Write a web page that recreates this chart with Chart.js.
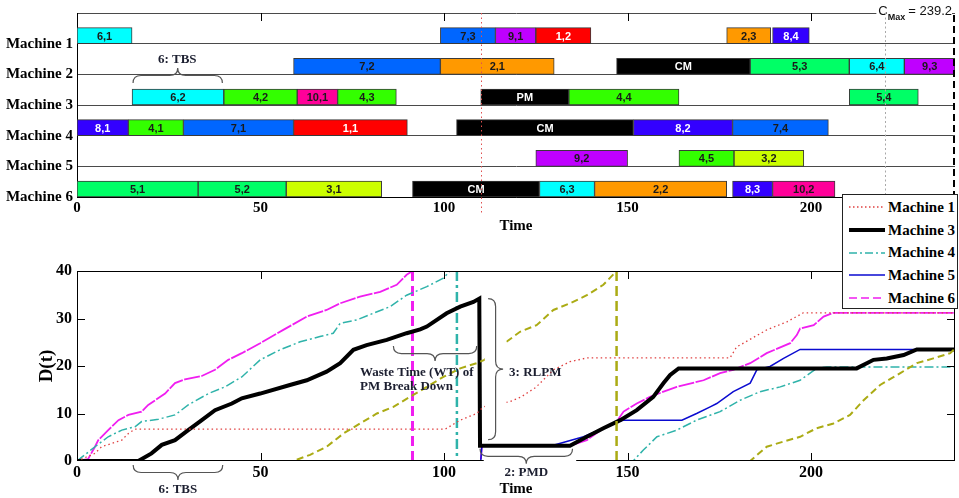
<!DOCTYPE html>
<html>
<head>
<meta charset="utf-8">
<script src="https://cdn.jsdelivr.net/npm/chart.js@4.4.0/dist/chart.umd.min.js"></script>
<style>
  body { margin: 0; background: #fff; width: 959px; height: 498px; overflow: hidden; position: relative; }
  #gantt { position: absolute; left: 0; top: 0; }
  #curves { position: absolute; left: 0; top: 235px; }
  #legend { position: absolute; left: 842px; top: 194px; width: 116px; height: 115px; box-sizing: border-box;
            border: 1px solid #222; background: #fff; padding-top: 1px; z-index: 2;
            font: bold 15px "Liberation Serif", serif; color: #000; }
  #legend .row { height: 22.7px; display: flex; align-items: center; }
  #legend svg { margin-left: 5px; margin-right: 2px; }
</style>
</head>
<body>
<canvas id="gantt" width="959" height="235"></canvas>
<canvas id="curves" width="959" height="263"></canvas>
<div id="legend"></div>
<script>
const cMax = 239.2;
const pmTime = 110;
const refTime = 220;
const machines = ['Machine 1', 'Machine 2', 'Machine 3', 'Machine 4', 'Machine 5', 'Machine 6'];
const timeTicks = [0, 50, 100, 150, 200];
const dTicks = [0, 10, 20, 30, 40];

// schedule: operation label, machine, start, end
const opLabel = ['6,1', '7,3', '9,1', '1,2', '2,3', '8,4',
  '7,2', '2,1', 'CM', '5,3', '6,4', '9,3',
  '6,2', '4,2', '10,1', '4,3', 'PM', '4,4', '5,4',
  '8,1', '4,1', '7,1', '1,1', 'CM', '8,2', '7,4',
  '9,2', '4,5', '3,2',
  '5,1', '5,2', '3,1', 'CM', '6,3', '2,2', '8,3', '10,2'];
const opMachine = [1, 1, 1, 1, 1, 1, 2, 2, 2, 2, 2, 2, 3, 3, 3, 3, 3, 3, 3,
  4, 4, 4, 4, 4, 4, 4, 5, 5, 5, 6, 6, 6, 6, 6, 6, 6, 6];
const opStart = [0, 99, 114, 125, 177, 189.5, 59, 99, 147, 183.4, 210.4, 225.4,
  15, 40, 60, 71, 110, 134, 210.4, 0, 14, 29, 59, 103.4, 151.6, 178.6,
  125, 164, 179, 0, 33, 57, 91.4, 126, 141, 178.6, 189.5];
const opEnd = [15, 114, 125, 140, 189, 199.5, 99, 130, 183.4, 210.4, 225.4, 239.2,
  40, 60, 71, 87, 134, 164, 229.2, 14, 29, 59, 90, 151.6, 178.6, 204.7,
  150, 179, 198, 33, 57, 83, 126, 141, 177, 189.5, 206.5];

// D(t) per machine, [time, value]
const dM1 = [[0, 0], [4.9, 1.6], [6.7, 3], [9.5, 3.7], [12.2, 4.4], [14, 5.8], [15.8, 6.7], [100.3, 6.7],
  [104.4, 8.6], [108.9, 10], [110.7, 11.4], [118, 12.5], [121, 13.5], [125, 15.5], [129.8, 19.2],
  [134.3, 20.9], [138.9, 21.7], [177.9, 21.7], [179.7, 24], [187.9, 27.6], [193.4, 29.3],
  [197.9, 31.2], [239.2, 31.2]];
const dM2 = [[0, 0], [58.9, 0], [63.5, 1.3], [68, 3], [72.6, 5.8], [77.1, 7.9], [81.7, 10], [86.2, 11.4],
  [90.7, 13.5], [95.3, 15.6], [99.8, 17.7], [104.4, 19.5], [108.9, 20.6], [111, 21.3], [117, 25.1],
  [120.7, 27.2], [125.2, 28.6], [129.8, 31.8], [134.3, 33.2], [138.9, 34.9], [143.4, 37.1], [147, 40],
  [147, 0], [183.4, 0], [187.9, 3], [192.5, 4.1], [197, 5.1], [201.5, 6.9], [206.1, 7.9], [210.6, 9.7],
  [214.3, 12.8], [218.8, 16], [224.3, 18.5], [228.8, 20.6], [233.3, 21.6], [237.9, 22.7], [239.2, 23.7]];
const dM3 = [[0, 0], [16.7, 0], [20.3, 1.6], [23.1, 3.4], [26.7, 4.4], [30.3, 6.5], [34, 8.6], [37.6, 10.7],
  [42.2, 12.1], [44.9, 13.2], [49.9, 14.2], [58, 16], [62.6, 17], [68, 18.8], [71.7, 20.6], [75.3, 23.4],
  [78.9, 24.4], [84.4, 25.5], [89.8, 26.9], [93.5, 27.7], [95.3, 28.3], [100.7, 31.1], [104.4, 32.5],
  [108, 33.5], [109.6, 34.2], [109.8, 3.2], [134.3, 3.2], [138.9, 5.1], [143.4, 6.9], [148, 8.6],
  [152.5, 10.7], [157, 13.5], [159.8, 16.4], [161.6, 18.1], [163.9, 19.5], [212.4, 19.5], [217, 21.3],
  [220.6, 21.6], [225.2, 22.3], [228.8, 23.5], [239.2, 23.5]];
const dM4 = [[0, 0], [4.9, 3], [8.5, 5.1], [12.2, 6.5], [15.8, 7.2], [17.6, 8.3], [22.2, 8.8], [26.7, 9.7],
  [30.3, 11.8], [35.8, 14.2], [40.3, 15.6], [44.9, 17.7], [49.9, 21.3], [55.3, 23.4], [60.8, 25.1],
  [66.2, 26.2], [69.8, 26.9], [71.7, 29], [76.2, 29.7], [80.7, 31.1], [85.3, 32.5], [89.8, 34.9],
  [95.3, 36.7], [99.8, 38.5], [101.6, 40], [103.5, 40], [103.5, 0], [151.5, 0], [154.3, 2.3], [158, 5.1],
  [163.4, 6.5], [168.8, 8.6], [175.2, 10.4], [180.7, 12.8], [186.1, 14.6], [191.6, 15.6], [197, 17],
  [201.5, 19.5], [204.3, 19.8], [239.2, 19.8]];
const dM5 = [[0, 0], [110, 0], [110.3, 3.2], [129.3, 3.2], [133.4, 4.1], [138, 5.1], [143.4, 6.9], [147, 8.3],
  [148.9, 8.6], [164.8, 8.6], [168.8, 10], [172.5, 11.4], [174.3, 12.1], [178.8, 14.6], [183.4, 16.4],
  [185.2, 19.2], [188.8, 19.9], [192.5, 21.6], [197, 23.5], [239.2, 23.5]];
const dM6 = [[0, 0], [3, 0.4], [4.9, 3], [5.8, 4.4], [8.5, 6.5], [11.3, 8.6], [14, 9.7], [17.6, 10.4],
  [19.4, 11.8], [24, 14.2], [26.7, 16.4], [29.4, 17.2], [34, 17.9], [37.6, 19.2], [41.2, 21.3],
  [44.9, 22.7], [49.9, 24.8], [56.2, 27.6], [62.6, 30.4], [68, 31.8], [71.7, 33.2], [77.1, 34.6],
  [82.6, 35.6], [87.1, 37.1], [89.8, 39.2], [91.4, 40], [91.4, 0], [110, 0], [110.3, 3.2], [129.8, 3.2],
  [134.3, 3.2], [138.9, 4.4], [143.4, 6.9], [147, 8.3], [148.9, 10.4], [152.5, 12.1], [156.1, 13.5],
  [159.8, 14.6], [163.4, 15.6], [170.7, 17], [175.2, 18.5], [178.8, 19.2], [183.4, 20.6], [187.9, 22.7],
  [194.3, 24.8], [196.1, 26.5], [197, 27.9], [200.7, 28.6], [203.4, 30.4], [206.1, 31.2], [239.2, 31.2]];

const jobColor = {
  '1': '#ff0000', '2': '#ff9900', '3': '#ccff00', '4': '#33ff00', '5': '#00ff66',
  '6': '#00ffff', '7': '#0066ff', '8': '#3300ff', '9': '#bf00ff', '10': '#ff0099',
  'CM': '#000000', 'PM': '#000000'
};
const lightText = ['1', '8', 'CM', 'PM'];
const jobOf = l => l.split(',')[0];

const serif = '"Liberation Serif", "Times New Roman", serif';
const sans = '"Liberation Sans", Arial, sans-serif';
const noteColor = '#1c1f30';

function hBrace(ctx, x1, x2, y, d) {
  const xm = (x1 + x2) / 2, h = d / 2, r = Math.min(8, (x2 - x1) / 4);
  ctx.beginPath();
  ctx.moveTo(x1, y);
  ctx.quadraticCurveTo(x1, y + h, x1 + r, y + h);
  ctx.lineTo(xm - r, y + h);
  ctx.quadraticCurveTo(xm, y + h, xm, y + d);
  ctx.quadraticCurveTo(xm, y + h, xm + r, y + h);
  ctx.lineTo(x2 - r, y + h);
  ctx.quadraticCurveTo(x2, y + h, x2, y);
  ctx.stroke();
}

function vBrace(ctx, y1, y2, x, d) {
  const ym = (y1 + y2) / 2, h = d / 2, r = Math.min(8, (y2 - y1) / 4);
  ctx.beginPath();
  ctx.moveTo(x, y1);
  ctx.quadraticCurveTo(x + h, y1, x + h, y1 + r);
  ctx.lineTo(x + h, ym - r);
  ctx.quadraticCurveTo(x + h, ym, x + d, ym);
  ctx.quadraticCurveTo(x + h, ym, x + h, ym + r);
  ctx.lineTo(x + h, y2 - r);
  ctx.quadraticCurveTo(x + h, y2, x, y2);
  ctx.stroke();
}

function vline(ctx, px, y1, y2, color, width, dash) {
  ctx.save();
  ctx.strokeStyle = color;
  ctx.lineWidth = width;
  ctx.setLineDash(dash);
  ctx.beginPath();
  ctx.moveTo(px, y1);
  ctx.lineTo(px, y2);
  ctx.stroke();
  ctx.restore();
}

// ---------- Gantt chart ----------
const ganttDecor = {
  id: 'ganttDecor',
  afterDatasetsDraw(chart) {
    const { ctx, chartArea: a, scales: { x } } = chart;
    ctx.save();
    // operation labels
    ctx.font = 'bold 11px ' + sans;
    ctx.textAlign = 'center';
    ctx.textBaseline = 'middle';
    chart.getDatasetMeta(0).data.forEach((el, i) => {
      const job = jobOf(opLabel[i]);
      ctx.fillStyle = lightText.includes(job) ? '#ffffff' : '#1a1a1a';
      ctx.fillText(opLabel[i], (el.x + el.base) / 2, el.y + 1);
    });

    // C max label
    const right = x.getPixelForValue(cMax) - 3;
    ctx.textAlign = 'right';
    ctx.textBaseline = 'alphabetic';
    ctx.font = '13px ' + sans;
    const txt = '= ' + cMax;
    const w1 = ctx.measureText(txt).width + 3;
    ctx.font = 'bold 9px ' + sans;
    const w2 = ctx.measureText('Max').width;
    ctx.font = '13px ' + sans;
    const w3 = ctx.measureText('C').width;
    ctx.fillStyle = '#fff';
    ctx.fillRect(right - w1 - w2 - w3 - 2, 0, w1 + w2 + w3 + 2, 21);
    ctx.fillStyle = '#111';
    ctx.fillText(txt, right, 15);
    ctx.font = 'bold 9px ' + sans;
    ctx.fillText('Max', right - w1, 20);
    ctx.font = '13px ' + sans;
    ctx.fillText('C', right - w1 - w2, 15);

    // markers
    vline(ctx, Math.round(x.getPixelForValue(pmTime)) + 0.5, a.top, a.bottom + 18, '#e05050', 1, [1.5, 3]);
    vline(ctx, Math.round(x.getPixelForValue(refTime)) + 0.5, a.top, a.bottom, '#a8a8a8', 1, [2, 2.5]);
    vline(ctx, x.getPixelForValue(cMax) - 1, a.top + 2, a.bottom, '#000', 2, [7, 4]);

    // inward ticks on top border
    ctx.strokeStyle = '#000';
    ctx.lineWidth = 1;
    ctx.beginPath();
    timeTicks.slice(1).forEach(v => {
      const px = Math.round(x.getPixelForValue(v)) + 0.5;
      ctx.moveTo(px, a.top);
      ctx.lineTo(px, a.top + 8);
    });
    ctx.stroke();

    // 6: TBS note above machine 3
    const t1 = x.getPixelForValue(15), t2 = x.getPixelForValue(39.6);
    ctx.fillStyle = '#fff';
    ctx.fillRect(t1 - 3, 50, t2 - t1 + 6, 24);
    ctx.strokeStyle = '#555';
    ctx.lineWidth = 1.2;
    hBrace(ctx, t1 + 1, t2, 83, -15);
    ctx.fillStyle = noteColor;
    ctx.textAlign = 'center';
    ctx.textBaseline = 'middle';
    ctx.font = 'bold 13px ' + serif;
    ctx.fillText('6: TBS', (t1 + t2) / 2, 60);
    ctx.restore();
  }
};

new Chart(document.getElementById('gantt').getContext('2d'), {
  type: 'bar',
  data: {
    datasets: [{
      data: opLabel.map((l, i) => ({ x: [opStart[i], opEnd[i]], y: opMachine[i] })),
      backgroundColor: opLabel.map(l => jobColor[jobOf(l)]),
      borderColor: '#3a3a3a',
      borderWidth: 1,
      borderSkipped: false,
      barThickness: 16
    }, {
      data: [],
      barThickness: 16
    }]
  },
  options: {
    indexAxis: 'y',
    responsive: false,
    animation: false,
    layout: { padding: { top: 7, right: 4, left: 0, bottom: 0 } },
    plugins: { legend: { display: false }, tooltip: { enabled: false } },
    scales: {
      x: {
        type: 'linear', min: 0, max: cMax,
        afterBuildTicks: s => { s.ticks = timeTicks.map(v => ({ value: v })); },
        afterFit: s => { s.height = 38; },
        grid: { display: false, drawTicks: false },
        border: { display: true, color: '#000', width: 1 },
        ticks: { color: '#000', padding: 2, font: { family: serif, size: 15, weight: 'bold' } },
        title: { display: true, text: 'Time', color: '#000', padding: 0,
                 font: { family: serif, size: 15, weight: 'bold' } }
      },
      y: {
        type: 'linear', reverse: true, min: 0, max: machines.length, offset: false,
        afterBuildTicks: s => { s.ticks = [0].concat(machines.map((m, i) => i + 1)).map(v => ({ value: v })); },
        afterFit: s => { s.width = 77; },
        grid: { display: true, offset: false, drawTicks: false, color: '#4a4a4a', lineWidth: 1 },
        border: { display: true, color: '#000', width: 1 },
        ticks: { autoSkip: false, color: '#000', padding: 4,
                 font: { family: serif, size: 15, weight: 'bold' },
                 callback: v => v >= 1 ? machines[v - 1] : '' }
      }
    }
  },
  plugins: [ganttDecor]
});

// ---------- D(t) chart ----------
const curveStyle = [
  { data: dM1, label: 'Machine 1', color: '#e04040', width: 1.3, dash: [1.5, 3], legend: true, legendDash: '1.5 2.5' },
  { data: dM2, label: 'Machine 2', color: '#abab14', width: 2, dash: [7, 4], dropWidth: 2.5, dropDash: [10, 5] },
  { data: dM3, label: 'Machine 3', color: '#000000', width: 4, dash: [], legend: true, legendDash: '' },
  { data: dM4, label: 'Machine 4', color: '#2fb3aa', width: 1.5, dash: [9, 3, 2, 3], dropWidth: 2.5, dropDash: [10, 4, 3, 4], legend: true, legendDash: '8 3 2 3' },
  { data: dM5, label: 'Machine 5', color: '#0a0ad0', width: 1.5, dash: [], legend: true, legendDash: '' },
  { data: dM6, label: 'Machine 6', color: '#f01ef0', width: 1.8, dash: [16, 1.5], dropWidth: 3, dropDash: [10, 5], legend: true, legendDash: '8 4' }
];

const isDrop = c => c.p0.parsed.x === c.p1.parsed.x && c.p0.parsed.y - c.p1.parsed.y > 20;

const curveDecor = {
  id: 'curveDecor',
  afterDatasetsDraw(chart) {
    const { ctx, chartArea: a, scales: { x, y } } = chart;
    ctx.save();
    // frame
    ctx.strokeStyle = '#000';
    ctx.lineWidth = 1;
    ctx.strokeRect(a.left + 0.5, a.top + 0.5, a.width - 1, a.height - 1);
    // inward ticks
    ctx.beginPath();
    timeTicks.slice(1).forEach(v => {
      const px = Math.round(x.getPixelForValue(v)) + 0.5;
      ctx.moveTo(px, a.top); ctx.lineTo(px, a.top + 8);
      ctx.moveTo(px, a.bottom); ctx.lineTo(px, a.bottom - 8);
    });
    dTicks.slice(1, -1).forEach(v => {
      const py = Math.round(y.getPixelForValue(v)) + 0.5;
      ctx.moveTo(a.left, py); ctx.lineTo(a.left + 8, py);
      ctx.moveTo(a.right, py); ctx.lineTo(a.right - 8, py);
    });
    ctx.stroke();

    // masks behind the RLPM and PMD braces
    ctx.fillStyle = '#fff';
    const xb = x.getPixelForValue(pmTime);
    ctx.fillRect(xb + 4, y.getPixelForValue(34.6), x.getPixelForValue(117) - xb - 4, y.getPixelForValue(3.9) - y.getPixelForValue(34.6));
    ctx.fillRect(xb + 3, a.bottom - 9, x.getPixelForValue(136) - xb - 3, 20);

    ctx.strokeStyle = '#555';
    ctx.lineWidth = 1.2;
    ctx.fillStyle = noteColor;
    ctx.font = 'bold 13px ' + serif;
    ctx.textBaseline = 'middle';

    // 6: TBS
    const t1 = x.getPixelForValue(15.3), t2 = x.getPixelForValue(39.7);
    hBrace(ctx, t1, t2, a.bottom + 4, 15);
    ctx.textAlign = 'center';
    ctx.fillText('6: TBS', (t1 + t2) / 2, a.bottom + 29);

    // 2: PMD
    const p1 = x.getPixelForValue(109.8), p2 = x.getPixelForValue(135);
    hBrace(ctx, p1, p2, y.getPixelForValue(3.2) + 3, 15);
    ctx.fillText('2: PMD', (p1 + p2) / 2, a.bottom + 12);

    // 3: RLPM
    const rx = x.getPixelForValue(112);
    vBrace(ctx, y.getPixelForValue(34.2), y.getPixelForValue(4.5), rx, 15);
    ctx.textAlign = 'left';
    ctx.fillText('3: RLPM', rx + 21, y.getPixelForValue(18.7));

    // waste time
    const w1 = x.getPixelForValue(86.2), w2 = x.getPixelForValue(108.9);
    hBrace(ctx, w1, w2, y.getPixelForValue(24.2), 15);
    ctx.fillText('Waste Time (WT) of', x.getPixelForValue(77.1), y.getPixelForValue(18.6));
    ctx.fillText('PM Break Down', x.getPixelForValue(77.1), y.getPixelForValue(15.6));
    ctx.restore();
  }
};

new Chart(document.getElementById('curves').getContext('2d'), {
  type: 'line',
  data: {
    datasets: curveStyle.map(s => ({
      label: s.label,
      data: s.data.map(p => ({ x: p[0], y: p[1] })),
      borderColor: s.color,
      borderWidth: s.width,
      borderDash: s.dash,
      pointRadius: 0,
      fill: false,
      tension: 0,
      segment: {
        borderWidth: c => (s.dropWidth && isDrop(c)) ? s.dropWidth : undefined,
        borderDash: c => (s.dropDash && isDrop(c)) ? s.dropDash : undefined
      }
    }))
  },
  options: {
    responsive: false,
    animation: false,
    layout: { padding: { top: 36, right: 4, left: 0, bottom: 0 } },
    plugins: { legend: { display: false }, tooltip: { enabled: false } },
    scales: {
      x: {
        type: 'linear', min: 0, max: cMax,
        afterBuildTicks: s => { s.ticks = timeTicks.map(v => ({ value: v })); },
        afterFit: s => { s.height = 37; },
        grid: { display: false, drawTicks: false },
        border: { display: false },
        ticks: { color: '#000', padding: 2, font: { family: serif, size: 16, weight: 'bold' } },
        title: { display: true, text: 'Time', color: '#000', padding: 0,
                 font: { family: serif, size: 15, weight: 'bold' } }
      },
      y: {
        type: 'linear', min: 0, max: 40,
        afterBuildTicks: s => { s.ticks = dTicks.map(v => ({ value: v })); },
        afterFit: s => { s.width = 77; },
        grid: { display: false, drawTicks: false },
        border: { display: false },
        ticks: { color: '#000', padding: 5, font: { family: serif, size: 16, weight: 'bold' } },
        title: { display: true, text: 'D(t)', color: '#000', padding: { top: 36, bottom: 0 },
                 font: { family: serif, size: 19, weight: 'bold' } }
      }
    }
  },
  plugins: [curveDecor]
});

// legend
const legendEl = document.getElementById('legend');
curveStyle.filter(s => s.legend).forEach(s => {
  const row = document.createElement('div');
  row.className = 'row';
  row.innerHTML = '<svg width="38" height="10"><line x1="1" y1="5" x2="37" y2="5" stroke="' + s.color +
    '" stroke-width="' + (s.width === 4 ? 4 : 1.6) + '"' + (s.legendDash ? ' stroke-dasharray="' + s.legendDash + '"' : '') +
    '/></svg><span>' + s.label + '</span>';
  legendEl.appendChild(row);
});
</script>
</body>
</html>
